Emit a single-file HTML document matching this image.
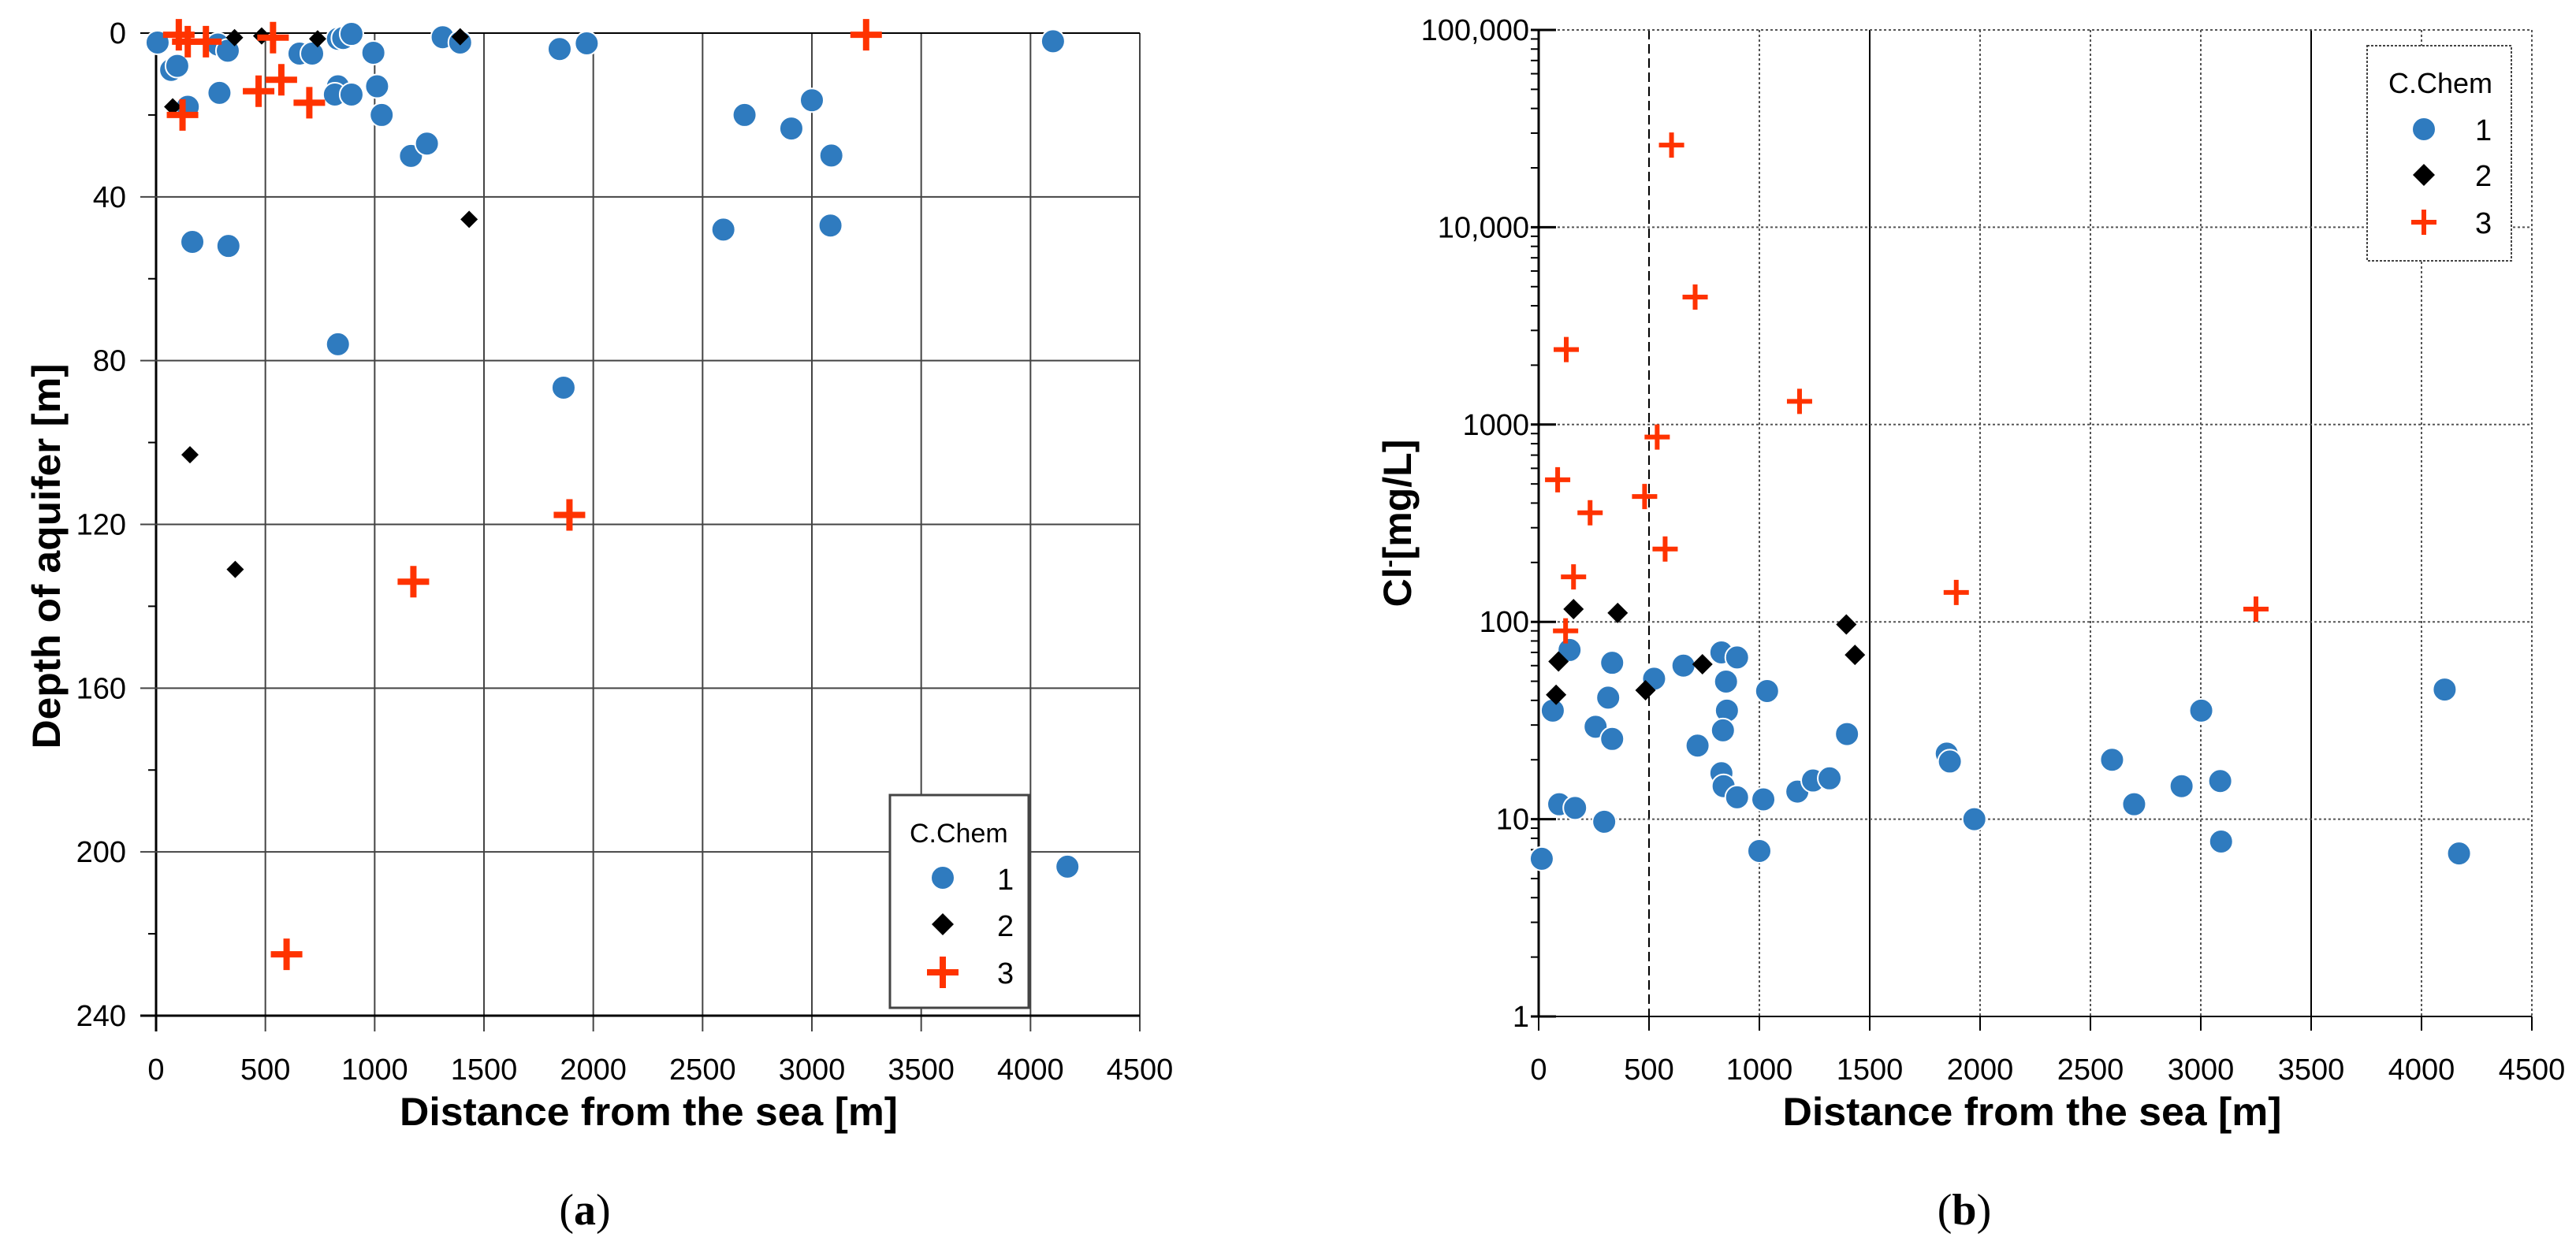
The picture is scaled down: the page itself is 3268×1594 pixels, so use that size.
<!DOCTYPE html>
<html><head><meta charset="utf-8">
<style>
html,body{margin:0;padding:0;background:#fff;}
svg{display:block;}
text{font-family:"Liberation Sans",sans-serif;}
</style></head>
<body>
<svg id="fig" width="3268" height="1594" viewBox="0 0 3268 1594" xmlns="http://www.w3.org/2000/svg">
<rect x="0" y="0" width="3268" height="1594" fill="#fff"/>
<g id="chartA"></g>
<g id="chartB"></g>
<text x="742" y="1554" font-size="56" text-anchor="middle" style="font-family:'Liberation Serif',serif">(<tspan font-weight="bold">a</tspan>)</text>
<text x="2492" y="1554" font-size="56" text-anchor="middle" style="font-family:'Liberation Serif',serif">(<tspan font-weight="bold">b</tspan>)</text>
</svg>
<script>
// ---- Panel (a) data ----
const xTicksA = [0,500,1000,1500,2000,2500,3000,3500,4000,4500];
const yTicksA = [0,40,80,120,160,200,240];
const a1x = [7,69,97,145,283,328,290,166,331,656,714,832,856,894,832,818,894,994,1011,1032,1166,1239,832,1311,1391,1846,1970,1864,2595,2692,2906,3000,3089,3085,4103,4169];
const a1y = [2.3,9,8,18,2.8,4.3,14.6,51,52,5,5,1.4,1.2,0.2,13,15,15,4.8,13,20,30,27,76,1,2.3,3.9,2.5,86.6,48,20,23.3,16.4,29.9,47,2,203.6];
const a2x = [76,359,483,739,1391,1432,155,362];
const a2y = [18,1.1,0.7,1.4,0.9,45.5,103,131];
const a3x = [104,145,228,121,535,469,573,701,3248,1891,1177,597];
const a3y = [0.4,2.1,2.1,20,1.1,14.2,11.4,17,0.4,117.7,134,225];
// ---- Panel (b) data ----
const xTicksB = [0,500,1000,1500,2000,2500,3000,3500,4000,4500];
const yTicksB = [1,10,100,1000,10000,100000];
const yTickLabelsB = ["1","10","100","1000","10,000","100,000"];
const b1x = [14,64,93,165,297,140,258,315,333,333,523,656,720,828,899,849,853,835,828,838,899,1000,1018,1035,1172,1243,1318,1397,1849,1863,1974,2598,2698,2913,3002,3088,3092,4105,4170];
const b1y = [6.3,35.5,11.9,11.4,9.7,72,29.4,41.3,25.5,62,51.5,60,23.6,70,66,49.8,35.5,28.2,17.1,14.7,12.9,6.9,12.6,44.6,13.8,15.7,16.1,27,21.5,19.6,10,20,11.9,14.7,35.5,15.6,7.7,45.4,6.7];
const b2x = [79,90,158,358,484,742,1394,1433];
const b2y = [42.7,63,116,111,45,61,97,68];
const b3x = [602,709,125,1182,537,86,480,233,573,158,122,1892,3250];
const b3y = [26100,4430,2400,1310,865,525,432,357,234,169,90,141,116];

const NS="http://www.w3.org/2000/svg";
function el(parent,tag,attrs,text){const e=document.createElementNS(NS,tag);for(const k in attrs)e.setAttribute(k,attrs[k]);if(text!==undefined)e.textContent=text;parent.appendChild(e);return e;}
const BLUE="#2f7bbf", RED="#ff3300";
function circle(g,cx,cy,r){return el(g,'circle',{cx:cx,cy:cy,r:r,fill:BLUE,stroke:'#fff','stroke-width':2});}
function diamond(g,cx,cy,s){return el(g,'polygon',{points:`${cx},${cy-s} ${cx+s},${cy} ${cx},${cy+s} ${cx-s},${cy}`,fill:'#000'});}
function cross(g,cx,cy,s,w){return el(g,'path',{d:`M${cx-s},${cy}H${cx+s}M${cx},${cy-s}V${cy+s}`,stroke:RED,'stroke-width':w,fill:'none'});}

// ---------- Panel A ----------
(function(){
const g=document.getElementById('chartA');
const L=198,R=1446,T=42,B=1289;
const xs=v=>L+(v/4500)*(R-L), ys=v=>T+(v/240)*(B-T);
xTicksA.forEach(v=>{const l=el(g,'line',{x1:xs(v),x2:xs(v),y1:T,y2:B+20,stroke:v===0?'#000':'#444','stroke-width':v===0?3:2});


const t=el(g,'text',{x:xs(v),y:1370,'font-size':38,'text-anchor':'middle'},String(v));

});
yTicksA.forEach(v=>{const l=el(g,'line',{x1:L-20,x2:R,y1:ys(v),y2:ys(v),stroke:(v===0||v===240)?'#000':'#444','stroke-width':(v===240)?3:2});


const t=el(g,'text',{x:160,y:ys(v)+13,'font-size':38,'text-anchor':'end'},String(v));

});
for(let v=20;v<240;v+=40){const m=el(g,'line',{x1:L-10,x2:L,y1:ys(v),y2:ys(v),stroke:'#000','stroke-width':2});

}
const xt=el(g,'text',{x:823,y:1428,'font-size':50,'font-weight':'bold','text-anchor':'middle',textLength:632,lengthAdjust:'spacingAndGlyphs'},'Distance from the sea [m]');


const yt=el(g,'text',{x:0,y:0,'font-size':50,'font-weight':'bold','text-anchor':'middle',transform:'translate(76,706) rotate(-90)',textLength:489,lengthAdjust:'spacingAndGlyphs'},'Depth of aquifer [m]');


a1x.forEach((x,i)=>{const c=circle(g,xs(x),ys(a1y[i]),15);

});
a2x.forEach((x,i)=>{const c=diamond(g,xs(x),ys(a2y[i]),11);

});
a3x.forEach((x,i)=>{const c=cross(g,xs(x),ys(a3y[i]),20,8);

});
const lg=el(g,'g',{});


el(lg,'rect',{x:1129,y:1009,width:176,height:270,fill:'#fff',stroke:'#444','stroke-width':3});
el(lg,'text',{x:1154,y:1069,'font-size':34},'C.Chem');
circle(lg,1196,1114,15); el(lg,'text',{x:1265,y:1129,'font-size':38},'1');
diamond(lg,1196,1173,14); el(lg,'text',{x:1265,y:1188,'font-size':38},'2');
cross(lg,1196,1234,20,8); el(lg,'text',{x:1265,y:1248,'font-size':38},'3');
})();

// ---------- Panel B ----------
(function(){
const g=document.getElementById('chartB');
const L=1952,R=3212,T=38,B=1290;
const xs=v=>L+(v/4500)*(R-L), ys=v=>B-(Math.log10(v)/5)*(B-T);
xTicksB.forEach(v=>{let attrs={x1:xs(v),x2:xs(v),y1:T,y2:B,stroke:'#555','stroke-width':2,'stroke-dasharray':'3,3'};
if(v===1500||v===3500){attrs.stroke='#000';attrs['stroke-dasharray']='none';}
if(v===500){attrs.stroke='#000';attrs['stroke-dasharray']='12,6';}
if(v===0){attrs.stroke='#000';attrs['stroke-width']=3;attrs['stroke-dasharray']='none';}
const l=el(g,'line',attrs);


const tk=el(g,'line',{x1:xs(v),x2:xs(v),y1:B,y2:B+18,stroke:'#000','stroke-width':2});


const t=el(g,'text',{x:xs(v),y:1370,'font-size':38,'text-anchor':'middle'},String(v));

});
yTicksB.forEach((v,i)=>{const l=el(g,'line',{x1:L,x2:R,y1:ys(v),y2:ys(v),stroke:v===1?'#000':'#555','stroke-width':2,'stroke-dasharray':v===1?'none':'3,3'});


const tk=el(g,'line',{x1:L-10,x2:L+22,y1:ys(v),y2:ys(v),stroke:'#000','stroke-width':3});


const t=el(g,'text',{x:L-12,y:ys(v)+13,'font-size':38,'text-anchor':'end'},yTickLabelsB[i]);


if(v<100000){for(let k=2;k<10;k++){const m=el(g,'line',{x1:L-10,x2:L,y1:ys(v*k),y2:ys(v*k),stroke:'#000','stroke-width':2});

}}});
el(g,'line',{x1:L,x2:L,y1:T,y2:B,stroke:'#000','stroke-width':3});
const xt=el(g,'text',{x:2578,y:1428,'font-size':50,'font-weight':'bold','text-anchor':'middle',textLength:633,lengthAdjust:'spacingAndGlyphs'},'Distance from the sea [m]');


const yt=el(g,'text',{x:0,y:0,'font-size':50,'font-weight':'bold','text-anchor':'middle',transform:'translate(1790,664) rotate(-90)'});


el(yt,'tspan',{},'Cl'); el(yt,'tspan',{'font-size':30,dy:-18},'-'); el(yt,'tspan',{dy:18},'[mg/L]');
b1x.forEach((x,i)=>{const c=circle(g,xs(x),ys(b1y[i]),15);

});
b2x.forEach((x,i)=>{const c=diamond(g,xs(x),ys(b2y[i]),13);

});
b3x.forEach((x,i)=>{const c=cross(g,xs(x),ys(b3y[i]),16,6);

});
const lg=el(g,'g',{});


el(lg,'rect',{x:3003,y:58,width:183,height:273,fill:'#fff',stroke:'#444','stroke-width':2,'stroke-dasharray':'3,2'});
el(lg,'text',{x:3030,y:118,'font-size':36},'C.Chem');
circle(lg,3075,164,15); el(lg,'text',{x:3140,y:178,'font-size':38},'1');
diamond(lg,3075,222,14); el(lg,'text',{x:3140,y:236,'font-size':38},'2');
cross(lg,3075,282,16,6); el(lg,'text',{x:3140,y:296,'font-size':38},'3');
})();
</script>
</body></html>
